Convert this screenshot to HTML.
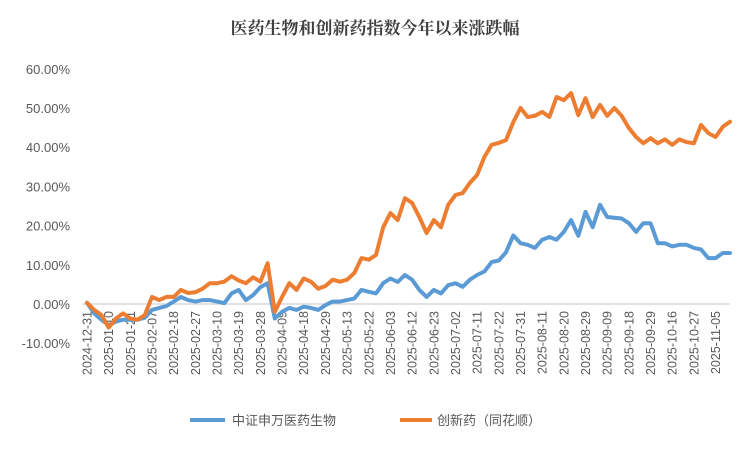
<!DOCTYPE html>
<html><head><meta charset="utf-8"><style>
body{margin:0;background:#fff;}
svg text{font-family:"Liberation Sans","Noto Sans CJK SC",sans-serif;}
</style></head><body>
<svg id="chart" width="750" height="450" xmlns="http://www.w3.org/2000/svg">
<text x="375" y="34" text-anchor="middle" font-size="17" font-weight="bold" fill="#404040" style="font-family:'Noto Serif CJK SC',serif">医药生物和创新药指数今年以来涨跌幅</text>
<g id="yaxis"></g>
<g id="xaxis"></g>
<g id="series"></g>
<g>
<line x1="190" y1="420" x2="225" y2="420" stroke="#5B9BD5" stroke-width="4"/>
<text x="232" y="425" font-size="13" fill="#595959">中证申万医药生物</text>
<line x1="400" y1="420" x2="432" y2="420" stroke="#ED7D31" stroke-width="4"/>
<text x="437" y="425" font-size="13" fill="#595959">创新药（同花顺）</text>
</g>
</svg>
<script>
const tickLabels=["2024-12-31","2025-01-10","2025-01-21","2025-02-07","2025-02-18","2025-02-27","2025-03-10","2025-03-19","2025-03-28","2025-04-09","2025-04-18","2025-04-29","2025-05-13","2025-05-22","2025-06-03","2025-06-12","2025-06-23","2025-07-02","2025-07-11","2025-07-22","2025-07-31","2025-08-11","2025-08-20","2025-08-29","2025-09-09","2025-09-18","2025-09-29","2025-10-16","2025-10-27","2025-11-05"];
const yTicks=[60,50,40,30,20,10,0,-10];
const innovative=[0.3,-1.5,-2.8,-6,-3.7,-2.4,-3.7,-4,-2.8,1.8,1,1.8,1.8,3.6,2.8,3,3.9,5.3,5.3,5.7,7.1,6,5.3,6.8,5.7,10.4,-2,1.8,5.3,3.6,6.5,5.7,3.9,4.6,6.2,5.7,6.2,7.9,11.7,11.3,12.5,19.6,23.2,21.4,27,25.8,22.2,18.1,21.4,19.6,25.3,27.8,28.3,30.9,32.9,37.5,40.6,41.1,41.8,46.4,50,47.7,48,49,47.7,52.8,52,53.8,48.2,52.5,47.7,50.8,48,50,48,44.9,42.6,41,42.3,41,42,40.6,42,41.3,41,45.7,43.6,42.6,45.2,46.5];
const pharma=[0.3,-2.4,-4,-5.4,-4.5,-4,-4,-4,-3.5,-1.5,-1,-0.5,0.6,1.8,1,0.6,1,1,0.6,0.2,2.7,3.6,1,2.3,4.3,5.3,-3.7,-2,-1,-1.5,-0.7,-1,-1.5,-0.3,0.6,0.6,1,1.4,3.6,3.1,2.7,5.3,6.5,5.6,7.4,6.2,3.6,1.8,3.6,2.7,4.8,5.3,4.4,6.2,7.4,8.3,10.7,11.1,13.2,17.5,15.5,15.1,14.3,16.4,17.1,16.4,18.4,21.4,17.4,23.5,19.6,25.3,22.2,22,21.8,20.6,18.4,20.6,20.6,15.5,15.5,14.7,15.1,15.1,14.3,13.9,11.7,11.7,13,13];
const NS="http://www.w3.org/2000/svg";
const x0=87,x1=730,yZero=304,pxPer=3.92;
const n=innovative.length;
function xs(i){return x0+(x1-x0)*i/(n-1);}
function ys(v){return yZero-v*pxPer;}
function mk(tag,attrs,parent){const e=document.createElementNS(NS,tag);for(const k in attrs)e.setAttribute(k,attrs[k]);parent.appendChild(e);return e;}
const ya=document.getElementById('yaxis');
yTicks.forEach(t=>{const e=mk('text',{x:70,y:ys(t)+5,'text-anchor':'end','font-size':13,fill:'#595959'},ya);


e.textContent=t.toFixed(2)+'%';});
const zl=mk('line',{x1:82,x2:730,y1:ys(0),y2:ys(0),stroke:'#D9D9D9','stroke-width':1.5},ya);


const xa=document.getElementById('xaxis');
tickLabels.forEach((l,k)=>{const x=xs(k*3);const e=mk('text',{x:0,y:0,'text-anchor':'end','font-size':12.5,fill:'#595959',transform:`translate(${x+4.5},311) rotate(-90)`},xa);


e.textContent=l;});
const sg=document.getElementById('series');
function line(vals,col,name){const d=vals.map((v,i)=>(i?'L':'M')+xs(i).toFixed(1)+' '+ys(v).toFixed(1)).join(' ');
const p=mk('path',{d:d,fill:'none',stroke:col,'stroke-width':4,'stroke-linejoin':'round','stroke-linecap':'round'},sg);

}
line(pharma,'#5B9BD5','pharma-line');
line(innovative,'#ED7D31','innovative-drug-line');
</script>
</body></html>
